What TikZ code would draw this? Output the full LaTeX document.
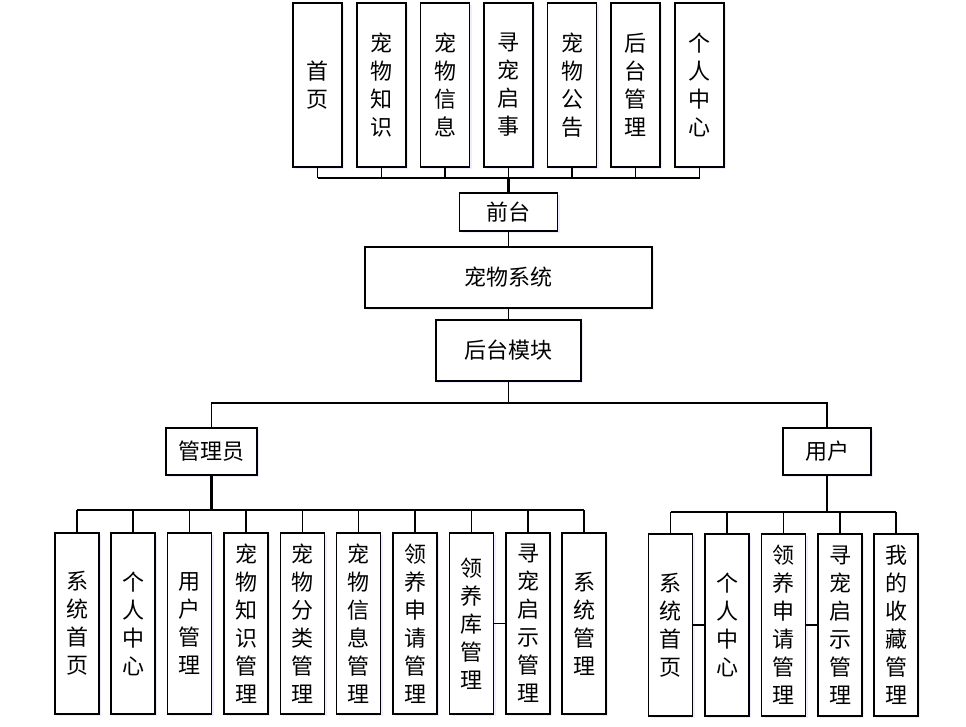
\documentclass[tikz,border=0pt]{standalone}
\usepackage{fontspec}
\newfontfamily\cjk{Noto Sans CJK SC}
\usetikzlibrary{shadows}

\tikzset{
  box/.style={draw, line width=1pt, fill=white, inner sep=0pt, align=center,
    font=\cjk\fontsize{16.5}{21}\selectfont,
    drop shadow={shadow xshift=1.5pt, shadow yshift=-1.5pt, fill=blue!20, opacity=0.35}},
  topbox/.style={box, minimum width=36.75pt, minimum height=123pt},
  subbox/.style={box, minimum width=33pt, minimum height=135.75pt},
  link/.style={line width=0.8pt},
  stem/.style={line width=2.2pt}
}

\begin{document}
\begin{tikzpicture}[x=0.75pt, y=-0.75pt]
    \useasboundingbox (0,0) rectangle (966,726);

    % Front modules
    \node[topbox] (t1) at (317.5,85) {首\\页};
    \node[topbox] (t2) at (381.5,85) {宠\\物\\知\\识};
    \node[topbox] (t3) at (445,85) {宠\\物\\信\\息};
    \node[topbox] (t4) at (508.5,85) {寻\\宠\\启\\事};
    \node[topbox] (t5) at (572,85) {宠\\物\\公\\告};
    \node[topbox] (t6) at (635.5,85) {后\\台\\管\\理};
    \node[topbox] (t7) at (699.5,85) {个\\人\\中\\心};

    % Main chain
    \node[box, minimum width=73.5pt, minimum height=28.5pt] (front) at (508.5,212) {前台};
    \node[box, minimum width=215.25pt, minimum height=45.75pt] (sys) at (508.5,277.5) {宠物系统};
    \node[box, minimum width=108.75pt, minimum height=45.75pt] (back) at (508.5,350.5) {后台模块};

    % Roles
    \node[box, minimum width=68.25pt, minimum height=35.25pt] (admin) at (211.5,451.5) {管理员};
    \node[box, minimum width=66pt, minimum height=35.25pt] (user) at (827,451.5) {用户};

    % Admin modules
    \node[subbox] (a1) at (77,623.5) {系\\统\\首\\页};
    \node[subbox] (a2) at (133,623.5) {个\\人\\中\\心};
    \node[subbox] (a3) at (189.5,623.5) {用\\户\\管\\理};
    \node[subbox] (a4) at (246,623.5) {宠\\物\\知\\识\\管\\理};
    \node[subbox] (a5) at (302.5,623.5) {宠\\物\\分\\类\\管\\理};
    \node[subbox] (a6) at (358.5,623.5) {宠\\物\\信\\息\\管\\理};
    \node[subbox] (a7) at (415,623.5) {领\\养\\申\\请\\管\\理};
    \node[subbox] (a8) at (471.5,623.5) {领\\养\\库\\管\\理};
    \node[subbox] (a9) at (528,623.5) {寻\\宠\\启\\示\\管\\理};
    \node[subbox] (a10) at (584,623.5) {系\\统\\管\\理};

    % User modules
    \node[subbox, minimum height=136.5pt] (u1) at (670.5,625) {系\\统\\首\\页};
    \node[subbox, minimum height=136.5pt] (u2) at (727,625) {个\\人\\中\\心};
    \node[subbox, minimum height=136.5pt] (u3) at (783.5,625) {领\\养\\申\\请\\管\\理};
    \node[subbox, minimum height=136.5pt] (u4) at (840,625) {寻\\宠\\启\\示\\管\\理};
    \node[subbox, minimum height=136.5pt] (u5) at (896,625) {我\\的\\收\\藏\\管\\理};

    % Buses
    \coordinate (topbus) at (508.5,178);
    \coordinate (rolebus) at (508.5,403);
    \coordinate (adminbus) at (211.5,510);
    \coordinate (userbus) at (827,512);

    % Front connectors
    \draw[link] (t1.south |- topbus) -- (t7.south |- topbus);
    \foreach \i in {1,...,7}
        \draw[link] (t\i.south) -- (t\i.south |- topbus);
    \draw[stem] (topbus) -- (front.north);
    \draw[link] (front.south) -- (sys.north);
    \draw[link] (sys.south) -- (back.north);

    % Role connectors
    \draw[link] (back.south) -- (rolebus);
    \draw[link] (admin.north) |- (rolebus) -| (user.north);

    % Admin connectors
    \draw[stem] (admin.south) -- (adminbus);
    \draw[link, line width=1.3pt] (a1.north |- adminbus) -- (a10.north |- adminbus);
    \foreach \i in {1,...,10}
        \draw[link] (a\i.north) -- (a\i.north |- adminbus);
    \draw[link] (a8.east) -- (a9.west);

    % User connectors
    \draw[line width=1.6pt] (user.south) -- (userbus);
    \draw[link, line width=1.3pt] (u1.north |- userbus) -- (u5.north |- userbus);
    \foreach \i in {1,...,5}
        \draw[link] (u\i.north) -- (u\i.north |- userbus);
    \draw[link] (u1.east) -- (u2.west);
    \draw[link] (u3.east) -- (u4.west);

\end{tikzpicture}
\end{document}
